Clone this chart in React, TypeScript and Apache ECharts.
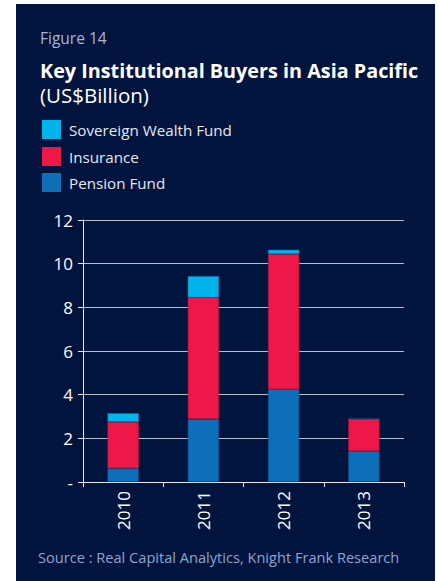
import React, { useEffect, useRef } from "react";
import * as echarts from "echarts";

const categories = ["2010", "2011", "2012", "2013"];
const pensionFund = [0.63, 2.88, 4.25, 1.41];
const insurance = [2.12, 5.57, 6.19, 1.47];
const sovereignWealthFund = [0.4, 0.98, 0.2, 0];
const yTicks = [0, 2, 4, 6, 8, 10, 12];

const FONT = "'Open Sans', 'Noto Sans', sans-serif";
const NAVY = "#01143e";

export default function App() {
  const ref = useRef<HTMLDivElement>(null);
  useEffect(() => {
    const chart = echarts.init(ref.current!, null, { renderer: "svg" });
    const legendItems = [
      { name: "Sovereign Wealth Fund", color: "#00b5ec", y: 120 },
      { name: "Insurance", color: "#ee1848", y: 147 },
      { name: "Pension Fund", color: "#0c6fb8", y: 173 },
    ];
    const txt = (x: number, y: number, text: string, fill: string, font: string) => ({
      type: "text",
      x,
      y,
      style: { text, fill, font, verticalAlign: "middle", align: "left" },
    });
    chart.setOption({
      animation: false,
      backgroundColor: "#ffffff",
      graphic: [
        { type: "rect", z: -10, shape: { x: 16, y: 4, width: 419, height: 577 }, style: { fill: NAVY } },
        txt(40, 38, "Figure 14", "#a9b7d6", `15.5px ${FONT}`),
        txt(40, 70, "Key Institutional Buyers in Asia Pacific", "#ffffff", `bold 19.8px ${FONT}`),
        txt(40, 95, "(US$Billion)", "#ffffff", `20.5px ${FONT}`),
        ...legendItems.flatMap((it) => [
          { type: "rect", shape: { x: 42, y: it.y, width: 19, height: 19 }, style: { fill: it.color } },
          txt(69, it.y + 10, it.name, "#e6e8f0", `15.2px ${FONT}`),
        ]),
        txt(38, 557, "Source : Real Capital Analytics, Knight Frank Research", "#8ea6cf", `14.6px ${FONT}`),
      ],
      grid: { left: 83, right: 34, top: 220, bottom: 99 },
      xAxis: {
        type: "category",
        data: categories,
        axisLine: { lineStyle: { color: "#e8e8f0", width: 1 } },
        axisTick: { show: true, length: 5, lineStyle: { color: "#e8e8f0" } },
        axisLabel: { rotate: 90, color: "#ffffff", fontSize: 17, fontFamily: FONT, margin: 9 },
      },
      yAxis: {
        type: "value",
        min: 0,
        max: 12,
        interval: 2,
        axisLine: { show: true, lineStyle: { color: "#e8e8f0", width: 1 } },
        axisTick: { show: true, length: 5, lineStyle: { color: "#e8e8f0" } },
        splitLine: { lineStyle: { color: "#b9bccb", width: 1.2 } },
        axisLabel: {
          color: "#ffffff",
          fontSize: 17,
          fontFamily: FONT,
          margin: 10,
          formatter: (v: number) => (v === 0 ? "-" : yTicks.includes(v) ? String(v) : ""),
        },
      },
      series: [
        { name: "Pension Fund", type: "bar", stack: "a", data: pensionFund, barWidth: "39%", itemStyle: { color: "#0c6fb8", borderColor: "#0a4f8f", borderWidth: 0.6 } },
        { name: "Insurance", type: "bar", stack: "a", data: insurance, itemStyle: { color: "#ee1848", borderColor: "#a81338", borderWidth: 0.6 } },
        { name: "Sovereign Wealth Fund", type: "bar", stack: "a", data: sovereignWealthFund, itemStyle: { color: "#00b5ec", borderColor: "#0a6fb0", borderWidth: 0.6 } },
      ],
    });
    return () => chart.dispose();
  }, []);
  return (
    <div style={{ position: "absolute", left: 0, top: 0, width: 438, height: 581 }}>
      <div ref={ref} style={{ width: 438, height: 581 }} />
    </div>
  );
}
